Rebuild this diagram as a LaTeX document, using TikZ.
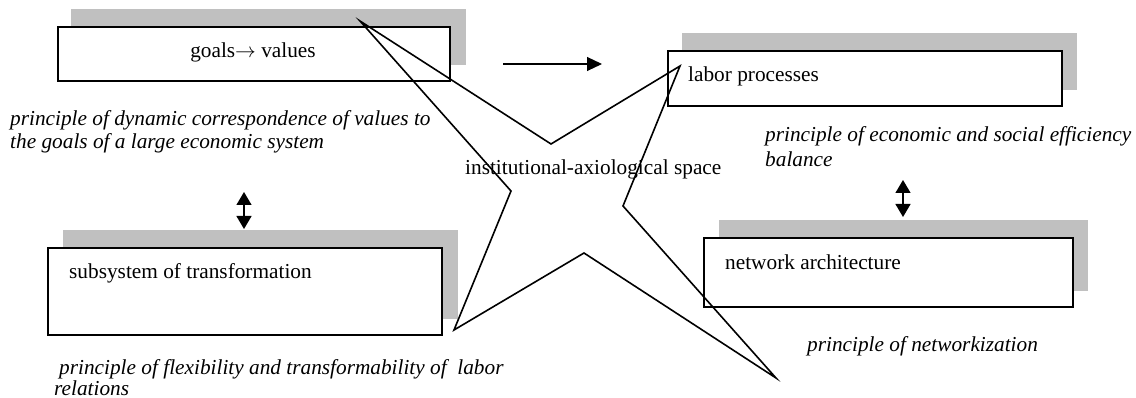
\documentclass[tikz,border=0pt]{standalone}
\usepackage{fontspec}
\setmainfont{Liberation Serif}
\usetikzlibrary{arrows.meta}
\definecolor{shadowgray}{RGB}{192,192,192}
\begin{document}
\begin{tikzpicture}[x=1pt,y=-1pt,
  boxstyle/.style={draw=black, line width=1.8pt, fill=white, rectangle, inner sep=0pt, anchor=north west},
  lbl/.style={font=\fontsize{21.3}{25}\selectfont, inner sep=0pt, anchor=base west},
  ital/.style={font=\fontsize{21.3}{25}\selectfont\itshape, inner sep=0pt, anchor=base west},
  starline/.style={line width=1.6pt, line join=miter},
  arr/.style={line width=1.1pt, -{Triangle[length=15pt,width=14pt]}},
  darr/.style={line width=1.3pt, {Triangle[length=13pt,width=15pt]}-{Triangle[length=13pt,width=15pt]}}
]
\useasboundingbox (0,0) rectangle (1136,398);

% shadows
\fill[shadowgray] (71,9) rectangle (466,65);
\fill[shadowgray] (682,33) rectangle (1077,90);
\fill[shadowgray] (63,230) rectangle (458,319);
\fill[shadowgray] (719,220) rectangle (1088,291);

% boxes
\node[boxstyle, minimum width=392pt, minimum height=54pt] (goalsbox) at (57,26) {};
\node[boxstyle, minimum width=394pt, minimum height=55pt] (laborbox) at (667,50) {};
\node[boxstyle, minimum width=394pt, minimum height=87pt] (subbox) at (47,247) {};
\node[boxstyle, minimum width=369pt, minimum height=69pt] (netbox) at (703,237) {};

% box texts
\node[lbl, anchor=base] (goalstxt) at (253,58) {goals$\rightarrow$ values};
\node[lbl] (labortxt) at (688,82) {labor processes};
\node[lbl] (subtxt) at (69,279) {subsystem of transformation};
\node[lbl] (nettxt) at (725,270) {network architecture};

% principles
\node[ital] (p1a) at (10,126) {principle of dynamic correspondence of values to};
\node[ital] (p1b) at (10,149) {the goals of a large economic system};
\node[ital] (p2a) at (765,142) {principle of economic and social efficiency};
\node[ital] (p2b) at (765,167) {balance};
\node[ital] (p3a) at (59,374) {principle of flexibility and transformability of\ \ labor};
\node[ital] (p3b) at (54,395) {relations};
\node[ital] (p4) at (807,351) {principle of networkization};
\node[lbl] (spacetxt) at (465,175) {institutional-axiological space};

% arrows
\coordinate (hA) at (503,64);
\coordinate (hB) at (602,64);
\draw[arr] (hA) -- (hB);
\coordinate (lA) at (244,192);
\coordinate (lB) at (244,229);
\draw[darr] (lA) -- (lB);
\coordinate (rA) at (903,180);
\coordinate (rB) at (903,217);
\draw[darr] (rA) -- (rB);

% star
\coordinate (P1) at (360,21);
\coordinate (P2) at (551,144);
\coordinate (P3) at (680,66);
\coordinate (P4) at (623,206);
\coordinate (P5) at (776,378);
\coordinate (P6) at (584,253);
\coordinate (P7) at (454,330);
\coordinate (P8) at (511,191);
\draw[starline] (P1) -- (P2) -- (P3) -- (P4) -- (P5) -- (P6) -- (P7) -- (P8) -- cycle;
\end{tikzpicture}
\end{document}
